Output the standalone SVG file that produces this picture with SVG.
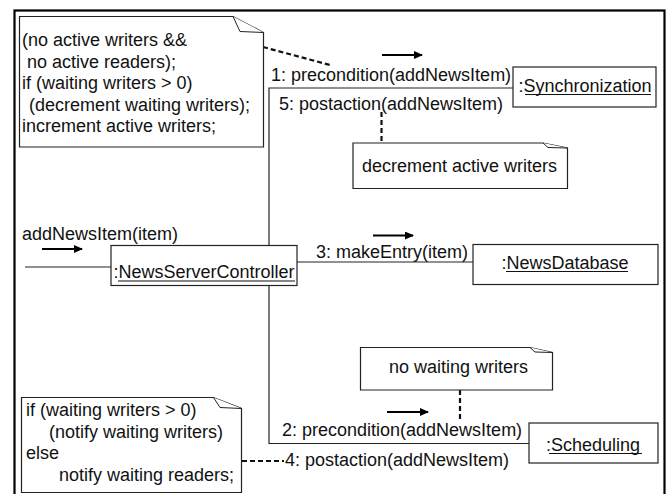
<svg xmlns="http://www.w3.org/2000/svg" width="667" height="494" viewBox="0 0 667 494">
  <style>
    text { font-family: "Liberation Sans", Arial, sans-serif; font-size: 18px; fill: #111; }
    .box { fill: #fff; stroke: #222; stroke-width: 1.2; }
    .note { fill: #fff; stroke: #222; stroke-width: 1.2; }
    .fold { fill: #fff; stroke: #222; stroke-width: 1; }
    .link { fill: none; stroke: #222; stroke-width: 1.2; }
    .anchor { fill: none; stroke: #111; stroke-width: 2.2; stroke-dasharray: 5 3; }
    .dir { fill: none; stroke: #000; stroke-width: 2; marker-end: url(#head); }
    .ul { stroke: #111; stroke-width: 1.2; }
    .mid { text-anchor: middle; }
  </style>
  <defs>
    <marker id="head" markerUnits="userSpaceOnUse" markerWidth="10" markerHeight="8" refX="8" refY="4" orient="auto">
      <path d="M0,0 L9,4 L0,8 Z" fill="#000"/>
    </marker>
  </defs>

  <rect width="667" height="494" fill="#fff"/>
  <!-- frame -->
  <rect x="14.5" y="10.5" width="650" height="500" fill="none" stroke="#000" stroke-width="2.2"/>

  <!-- connectors -->
  <g id="connectors">
    <polyline class="link" points="513,88 269,88 269,443.5 529,443.5"/>
    <line class="link" x1="25" y1="267" x2="111" y2="267"/>
    <line class="link" x1="297" y1="262" x2="473" y2="262"/>
    <!-- note anchors -->
    <line class="anchor" x1="263" y1="47" x2="330" y2="65"/>
    <line class="anchor" x1="381.5" y1="112" x2="381.5" y2="143"/>
    <line class="anchor" x1="460" y1="390" x2="460" y2="422"/>
    <line class="anchor" x1="242" y1="461" x2="284" y2="461"/>
    <!-- message direction arrows -->
    <line class="dir" x1="42" y1="249" x2="82" y2="249"/>
    <line class="dir" x1="382" y1="55" x2="422" y2="55"/>
    <line class="dir" x1="373" y1="235.5" x2="413" y2="235.5"/>
    <line class="dir" x1="387" y1="412" x2="428" y2="412"/>
    <!-- message labels -->
    <text x="271" y="81">1: precondition(addNewsItem)</text>
    <text x="279" y="109.5">5: postaction(addNewsItem)</text>
    <text x="22" y="239.5">addNewsItem(item)</text>
    <text x="316" y="258">3: makeEntry(item)</text>
    <text x="282" y="436">2: precondition(addNewsItem)</text>
    <text x="285" y="466">4: postaction(addNewsItem)</text>
  </g>

  <!-- objects -->
  <g id="synchronization">
    <rect class="box" x="513" y="67" width="143" height="40"/>
    <text class="mid" x="585" y="92">:Synchronization</text>
    <line class="ul" x1="525" y1="94.5" x2="651" y2="94.5"/>
  </g>

  <g id="news-server-controller">
    <rect class="box" x="111" y="245.5" width="186" height="40"/>
    <text class="mid" x="204" y="278">:NewsServerController</text>
    <line class="ul" x1="118" y1="281" x2="295" y2="281"/>
  </g>

  <g id="news-database">
    <rect class="box" x="473" y="244.5" width="185" height="40"/>
    <text class="mid" x="565" y="269">:NewsDatabase</text>
    <line class="ul" x1="506" y1="271.5" x2="628" y2="271.5"/>
  </g>

  <g id="scheduling">
    <rect class="box" x="529" y="423" width="129" height="40"/>
    <text class="mid" x="593" y="451">:Scheduling</text>
    <line class="ul" x1="549" y1="453.5" x2="642" y2="453.5"/>
  </g>

  <!-- notes -->
  <g id="note-sync-pre">
    <path class="note" d="M19.5,16.5 H233 L263.5,32.5 V147 H19.5 Z"/>
    <path class="fold" d="M233,16.5 L240,31.5 L263.5,32.5"/>
    <text x="22" y="46">(no active writers &amp;&amp;</text>
    <text x="22" y="67.5" xml:space="preserve"> no active readers);</text>
    <text x="22" y="89">if (waiting writers &gt; 0)</text>
    <text x="29" y="110.5">(decrement waiting writers);</text>
    <text x="22" y="132">increment active writers;</text>
  </g>

  <g id="note-sync-post">
    <path class="note" d="M353,143 H543 L567.5,148 V188.5 H353 Z"/>
    <path class="fold" d="M543,143 L548,147.5 L567.5,148"/>
    <text x="362" y="172">decrement active writers</text>
  </g>

  <g id="note-sched-pre">
    <path class="note" d="M360.5,347.5 H530 L552.5,352.5 V390 H360.5 Z"/>
    <path class="fold" d="M530,347.5 L535,352 L552.5,352.5"/>
    <text x="389" y="373">no waiting writers</text>
  </g>

  <g id="note-sched-post">
    <path class="note" d="M21.5,397.5 H213.5 L241.5,408.5 V492.5 H21.5 Z"/>
    <path class="fold" d="M213.5,397.5 L220,407.5 L241.5,408.5"/>
    <text x="26" y="416">if (waiting writers &gt; 0)</text>
    <text x="49" y="437.5">(notify waiting writers)</text>
    <text x="26" y="459">else</text>
    <text x="59" y="480.5">notify waiting readers;</text>
  </g>
</svg>
